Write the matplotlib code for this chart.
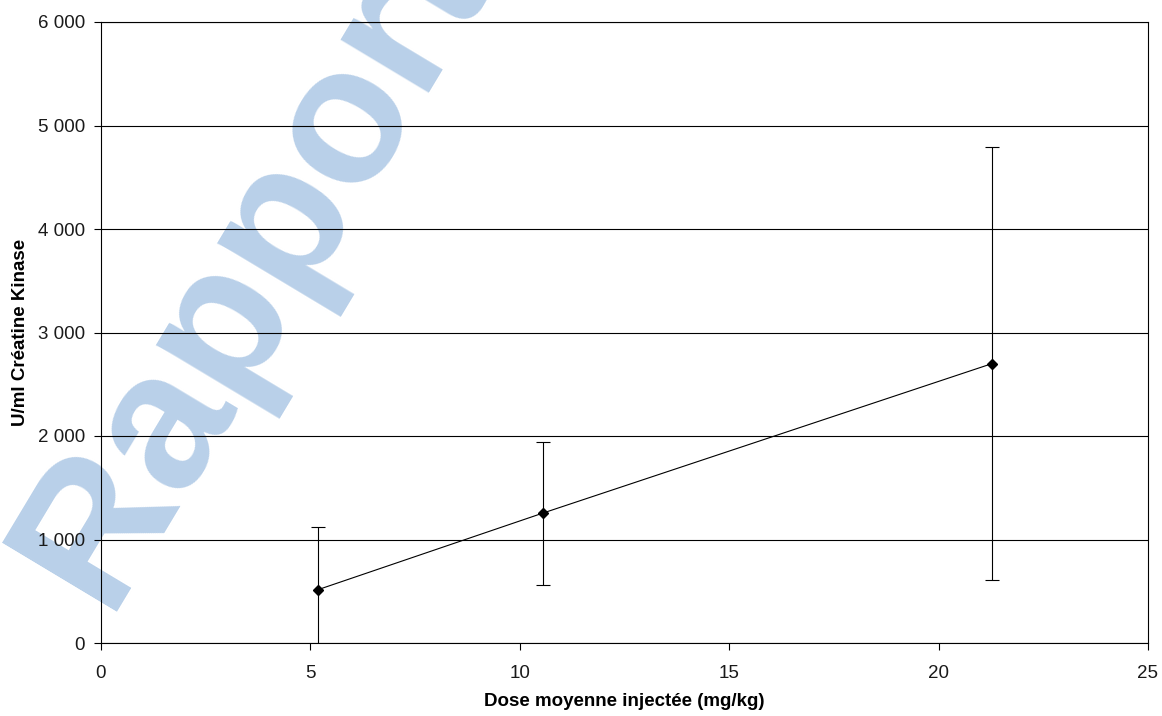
import matplotlib
matplotlib.use("Agg")
import matplotlib.pyplot as plt
from matplotlib.ticker import FuncFormatter, MultipleLocator

# Data
dose = [5.18, 10.55, 21.28]            # mg/kg
ck = [515, 1255, 2700]                  # U/ml
ck_err = [610, 690, 2095]               # error bar half-length

x_label = "Dose moyenne injectée (mg/kg)"
y_label = "U/ml Créatine Kinase"
watermark = "Rapport"

plt.rcParams['font.family'] = ['Liberation Sans', 'DejaVu Sans']

fig = plt.figure(figsize=(11.62, 7.16), dpi=100)
ax = fig.add_axes([101/1162, 1-643/716, (1148-101)/1162, (643-22)/716])

ax.set_xlim(0, 25)
ax.set_ylim(0, 6000)
ax.xaxis.set_major_locator(MultipleLocator(5))
ax.yaxis.set_major_locator(MultipleLocator(1000))
ax.yaxis.set_major_formatter(FuncFormatter(lambda v, p: f"{v:,.0f}".replace(",", " ")))

ax.grid(axis='y', color='black', linewidth=0.8, zorder=1)
ax.set_axisbelow(False)
for s in ax.spines.values():
    s.set_color('black')
    s.set_linewidth(0.8)
    s.set_zorder(2)

ax.tick_params(axis='both', direction='out', length=5, width=0.8, color='black',
               labelsize=13.5, labelcolor='#1a1a1a')
ax.tick_params(axis='x', pad=10.5)
ax.tick_params(axis='y', pad=6.5)

# watermark
ax.text(254/1162, 1-266/716, watermark, transform=fig.transFigure,
        rotation=59, rotation_mode='anchor', ha='center', va='center',
        fontsize=140, fontweight='bold', color='#b9d0e9', zorder=0.5, clip_on=False)

ax.errorbar(dose, ck, yerr=ck_err, color='black', linewidth=0.8, elinewidth=0.8,
            capsize=5, capthick=0.8, marker='D', markersize=5, zorder=3)

ax.set_xlabel(x_label, fontsize=13.5, fontweight='bold', labelpad=8)
ax.set_ylabel(y_label, fontsize=13.5, fontweight='bold', labelpad=6)

fig.savefig("out.png", dpi=100, facecolor='white')
